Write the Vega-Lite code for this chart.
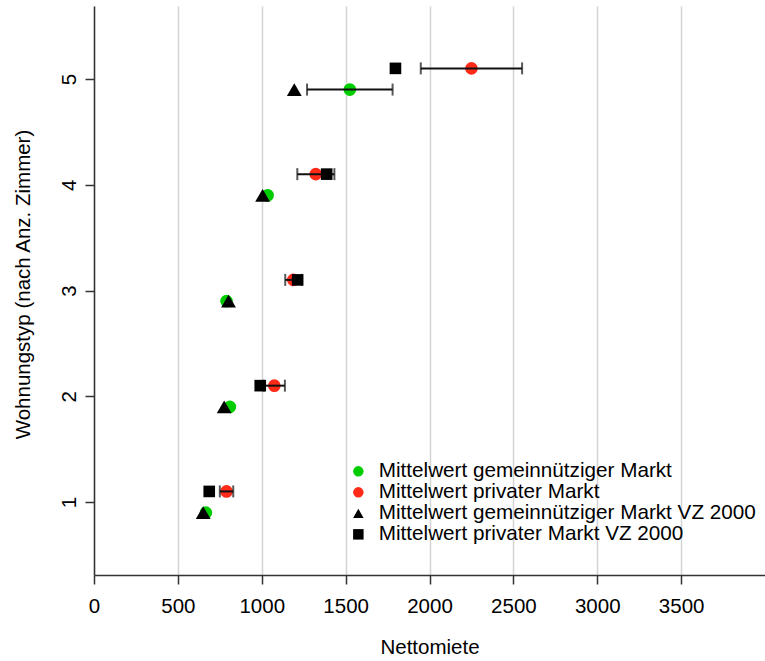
{
  "$schema": "https://vega.github.io/schema/vega-lite/v6.json",
  "width": 671,
  "height": 569,
  "autosize": {"type": "none"},
  "padding": {"left": 94, "top": 6, "right": 0, "bottom": 86},
  "background": "white",
  "config": {
    "font": "Liberation Sans",
    "view": {"stroke": null},
    "axis": {"labelColor": "black", "titleColor": "black", "titleFontWeight": "normal", "domainColor": "#333333", "domainWidth": 1.5, "tickColor": "#333333", "tickWidth": 1.5, "tickSize": 9, "labelFlush": false, "labelOverlap": false}
  },
  "data": {
    "values": [
      {"zimmer": 1, "serie": "Mittelwert gemeinnütziger Markt", "mittel": 667},
      {"zimmer": 2, "serie": "Mittelwert gemeinnütziger Markt", "mittel": 810},
      {"zimmer": 3, "serie": "Mittelwert gemeinnütziger Markt", "mittel": 790},
      {"zimmer": 4, "serie": "Mittelwert gemeinnütziger Markt", "mittel": 1035},
      {"zimmer": 5, "serie": "Mittelwert gemeinnütziger Markt", "mittel": 1525, "lo": 1270, "hi": 1780},
      {"zimmer": 1, "serie": "Mittelwert privater Markt", "mittel": 790, "lo": 750, "hi": 830},
      {"zimmer": 2, "serie": "Mittelwert privater Markt", "mittel": 1075, "lo": 1012, "hi": 1138},
      {"zimmer": 3, "serie": "Mittelwert privater Markt", "mittel": 1188, "lo": 1140, "hi": 1239},
      {"zimmer": 4, "serie": "Mittelwert privater Markt", "mittel": 1322, "lo": 1212, "hi": 1433},
      {"zimmer": 5, "serie": "Mittelwert privater Markt", "mittel": 2250, "lo": 1948, "hi": 2552},
      {"zimmer": 1, "serie": "Mittelwert gemeinnütziger Markt VZ 2000", "mittel": 651},
      {"zimmer": 2, "serie": "Mittelwert gemeinnütziger Markt VZ 2000", "mittel": 776},
      {"zimmer": 3, "serie": "Mittelwert gemeinnütziger Markt VZ 2000", "mittel": 802},
      {"zimmer": 4, "serie": "Mittelwert gemeinnütziger Markt VZ 2000", "mittel": 1005},
      {"zimmer": 5, "serie": "Mittelwert gemeinnütziger Markt VZ 2000", "mittel": 1194},
      {"zimmer": 1, "serie": "Mittelwert privater Markt VZ 2000", "mittel": 687},
      {"zimmer": 2, "serie": "Mittelwert privater Markt VZ 2000", "mittel": 991},
      {"zimmer": 3, "serie": "Mittelwert privater Markt VZ 2000", "mittel": 1214},
      {"zimmer": 4, "serie": "Mittelwert privater Markt VZ 2000", "mittel": 1387},
      {"zimmer": 5, "serie": "Mittelwert privater Markt VZ 2000", "mittel": 1797}
    ]
  },
  "encoding": {
    "y": {
      "field": "zimmer", "type": "quantitative",
      "scale": {"domain": [0.31, 5.69], "nice": false, "zero": false},
      "axis": {"values": [1, 2, 3, 4, 5], "format": "d", "grid": false, "labelAngle": -90, "labelAlign": "center", "labelBaseline": "bottom", "labelPadding": 6, "labelFontSize": 20.5, "title": "Wohnungstyp (nach Anz. Zimmer)", "titleFontSize": 20.5, "titleAngle": -90, "titleAlign": "center", "titleBaseline": "bottom", "titleX": -61, "titleY": 278}
    }
  },
  "layer": [
    {
      "transform": [{"filter": {"field": "serie", "equal": "Mittelwert gemeinnütziger Markt"}}],
      "mark": {"type": "point", "filled": true, "opacity": 1, "size": 160, "yOffset": 10.6},
      "encoding": {
        "x": {"field": "mittel", "type": "quantitative", "title": "Nettomiete",
          "scale": {"domain": [0, 4000], "nice": false, "zero": true},
          "axis": {"values": [0, 500, 1000, 1500, 2000, 2500, 3000, 3500], "format": "d", "grid": true, "gridColor": "#d4d4d4", "gridWidth": 1.5, "labelFontSize": 20.5, "labelPadding": 12, "titleFontSize": 20.5, "titlePadding": 21}},
        "color": {"field": "serie", "type": "nominal", "title": null,
          "scale": {"domain": ["Mittelwert gemeinnütziger Markt", "Mittelwert privater Markt", "Mittelwert gemeinnütziger Markt VZ 2000", "Mittelwert privater Markt VZ 2000"], "range": ["#00cd00", "#ff2a18", "black", "black"]},
          "legend": {"orient": "none", "legendX": 254, "legendY": 455, "padding": 0, "labelFontSize": 20.7, "symbolSize": 110, "rowPadding": -2.5, "labelOffset": 10, "symbolStrokeWidth": 0, "labelLimit": 0}},
        "shape": {"field": "serie", "type": "nominal", "title": null,
          "scale": {"domain": ["Mittelwert gemeinnütziger Markt", "Mittelwert privater Markt", "Mittelwert gemeinnütziger Markt VZ 2000", "Mittelwert privater Markt VZ 2000"], "range": ["circle", "circle", "triangle-up", "square"]},
          "legend": {"orient": "none", "legendX": 254, "legendY": 455, "padding": 0, "labelFontSize": 20.7, "symbolSize": 110, "rowPadding": -2.5, "labelOffset": 10, "symbolStrokeWidth": 0, "labelLimit": 0}}
      }
    },
    {
      "transform": [{"filter": {"field": "serie", "equal": "Mittelwert privater Markt"}}],
      "mark": {"type": "point", "filled": true, "opacity": 1, "size": 160, "yOffset": -10.6},
      "encoding": {
        "x": {"field": "mittel", "type": "quantitative", "title": "Nettomiete"},
        "color": {"field": "serie", "type": "nominal", "title": null},
        "shape": {"field": "serie", "type": "nominal", "title": null}
      }
    },
    {
      "transform": [{"filter": {"field": "serie", "equal": "Mittelwert gemeinnütziger Markt"}}],
      "mark": {"type": "rule", "color": "#111111", "strokeWidth": 2, "yOffset": 10.6},
      "encoding": {
        "x": {"field": "lo", "type": "quantitative", "title": "Nettomiete"},
        "x2": {"field": "hi"}
      }
    },
    {
      "transform": [{"filter": {"field": "serie", "equal": "Mittelwert privater Markt"}}],
      "mark": {"type": "rule", "color": "#111111", "strokeWidth": 2, "yOffset": -10.6},
      "encoding": {
        "x": {"field": "lo", "type": "quantitative", "title": "Nettomiete"},
        "x2": {"field": "hi"}
      }
    },
    {
      "transform": [{"filter": {"field": "serie", "equal": "Mittelwert gemeinnütziger Markt"}}, {"fold": ["lo", "hi"], "as": ["ende", "grenze"]}],
      "mark": {"type": "tick", "orient": "vertical", "color": "#111111", "thickness": 2, "size": 12, "yOffset": 10.6},
      "encoding": {
        "x": {"field": "grenze", "type": "quantitative", "title": "Nettomiete"}
      }
    },
    {
      "transform": [{"filter": {"field": "serie", "equal": "Mittelwert privater Markt"}}, {"fold": ["lo", "hi"], "as": ["ende", "grenze"]}],
      "mark": {"type": "tick", "orient": "vertical", "color": "#111111", "thickness": 2, "size": 12, "yOffset": -10.6},
      "encoding": {
        "x": {"field": "grenze", "type": "quantitative", "title": "Nettomiete"}
      }
    },
    {
      "transform": [{"filter": {"field": "serie", "equal": "Mittelwert gemeinnütziger Markt VZ 2000"}}],
      "mark": {"type": "point", "filled": true, "opacity": 1, "size": 220, "yOffset": 10.6},
      "encoding": {
        "x": {"field": "mittel", "type": "quantitative", "title": "Nettomiete"},
        "color": {"field": "serie", "type": "nominal", "title": null},
        "shape": {"field": "serie", "type": "nominal", "title": null}
      }
    },
    {
      "transform": [{"filter": {"field": "serie", "equal": "Mittelwert privater Markt VZ 2000"}}],
      "mark": {"type": "point", "filled": true, "opacity": 1, "size": 135, "yOffset": -10.6},
      "encoding": {
        "x": {"field": "mittel", "type": "quantitative", "title": "Nettomiete"},
        "color": {"field": "serie", "type": "nominal", "title": null},
        "shape": {"field": "serie", "type": "nominal", "title": null}
      }
    }
  ]
}
